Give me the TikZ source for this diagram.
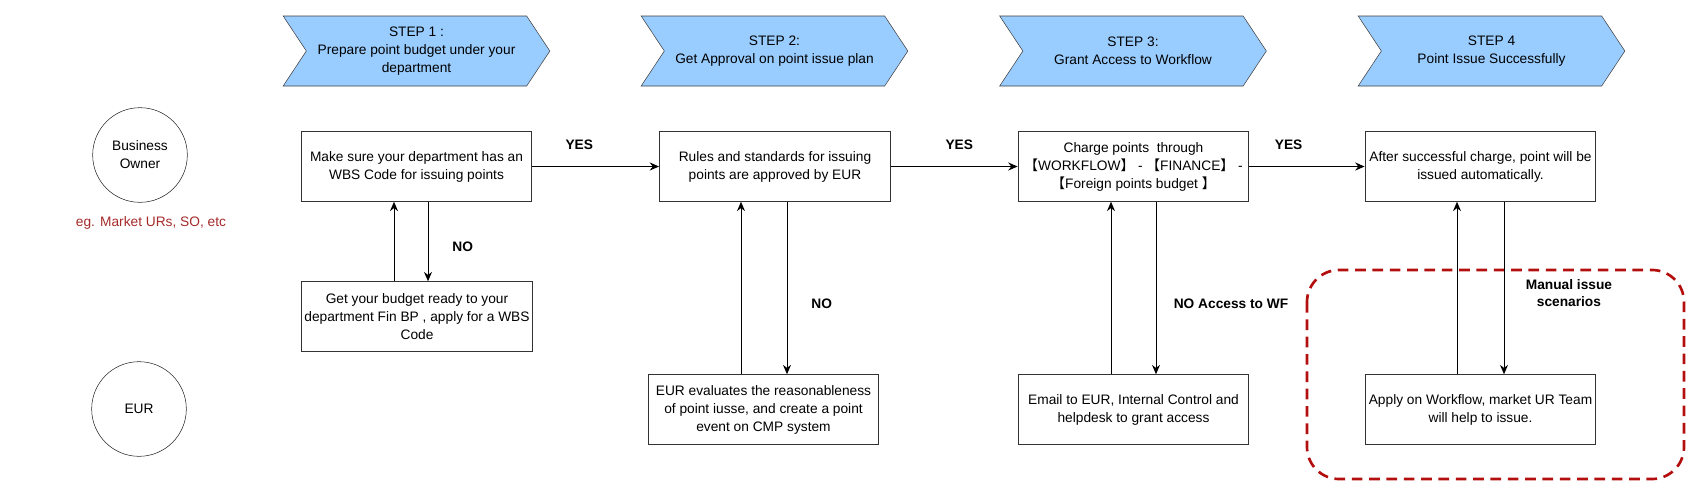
\documentclass[tikz,border=0pt]{standalone}
\usepackage{fontspec}
\setmainfont{Liberation Sans}
\newfontfamily\cjk{Noto Sans CJK SC}
\usetikzlibrary{positioning,arrows.meta,calc,shapes.symbols}
\definecolor{stepBlue}{HTML}{99CCFF}
\definecolor{noteRed}{HTML}{A52A2A}
\definecolor{zoneRed}{HTML}{B40F0F}
\newcommand{\opbr}{{\cjk 【}}
\newcommand{\clbr}{{\cjk 】}}

\begin{document}
\begin{tikzpicture}[
    x=0.75pt, y=-0.75pt,
    >=Stealth,
    txt/.style={font=\fontsize{10.3}{13.5}\selectfont, align=center},
    stepbox/.style={txt, shape=signal, signal from=west, signal to=east, signal pointer angle=113, draw=black!75, fill=stepBlue, minimum width=200pt, minimum height=52.5pt, inner sep=1pt},
    box/.style={txt, draw=black!80, line width=0.9pt, fill=white, minimum width=173pt, minimum height=52pt, inner sep=2pt},
    actor/.style={txt, circle, draw=black!85, minimum size=71pt},
    arr/.style={-{Stealth[length=7pt,width=6pt]}, line width=0.7pt},
    lbl/.style={font=\fontsize{10.3}{13}\selectfont\bfseries, align=center, inner sep=1pt},
    zone/.style={draw=zoneRed, line width=2pt, dash pattern=on 8pt off 5pt, rounded corners=24pt}
]
    \useasboundingbox (0,0) rectangle (1703,494);

    % Roles on the left
    \node[actor] (owner) at (140,155) {Business\\Owner};
    \node[txt, text=noteRed] (ownernote) at (151,223) {eg. Market URs, SO, etc};
    \node[actor] (eur) at (139,409) {EUR};

    % Step banners
    \node[stepbox] (st1) at (416.5,51) {STEP 1 :\\Prepare point budget under your\\department};
    \node[stepbox] (st2) at (774.5,51) {STEP 2:\\Get Approval on point issue plan};
    \node[stepbox] (st3) at (1133,51) {STEP 3:\\Grant Access to Workflow};
    \node[stepbox] (st4) at (1491.5,51) {STEP 4\\Point Issue Successfully};

    % Main row
    \node[box] (b1) at (416.5,166.5) {Make sure your department has an\\WBS Code for issuing points};
    \node[box] (b2) at (775,166.5) {Rules and standards for issuing\\points are approved by EUR};
    \node[box] (b3) at (1133.5,166.5) {Charge points~ through\\\opbr WORKFLOW\clbr{} - \opbr FINANCE\clbr{} -\\\opbr Foreign points budget \clbr};
    \node[box] (b4) at (1480.5,166.5) {After successful charge, point will be\\issued automatically.};

    % Fallback boxes
    \node[box] (b1b) at (417,316.5) {Get your budget ready to your\\department Fin BP , apply for a WBS\\Code};
    \node[box] (b2b) at (763.5,409.5) {EUR evaluates the reasonableness\\of point iusse, and create a point\\event on CMP system};
    \node[box] (b3b) at (1133.5,409.5) {Email to EUR, Internal Control and\\helpdesk to grant access};
    \node[box] (b4b) at (1480.5,409.5) {Apply on Workflow, market UR Team\\will help to issue.};

    % Manual issue area
    \draw[zone] (1307,270) rectangle (1684,479);

    % YES flow
    \draw[arr] (b1) -- node[lbl, pos=0.37, above=11pt] {YES} (b2);
    \draw[arr] (b2) -- node[lbl, pos=0.54, above=11pt] {YES} (b3);
    \draw[arr] (b3) -- node[lbl, pos=0.34, above=11pt] {YES} (b4);

    % NO loops
    \draw[arr] ($(b1.south)+(11.5,0)$) -- node[lbl, pos=0.57, right=17pt] {NO} ($(b1b.north)+(11,0)$);
    \draw[arr] ($(b1b.north)+(-23,0)$) -- ($(b1.south)+(-22.5,0)$);
    \draw[arr] ($(b2.south)+(12,0)$) -- node[lbl, pos=0.59, right=17pt] {NO} ($(b2b.north)+(23.5,0)$);
    \draw[arr] ($(b2b.north)+(-22.5,0)$) -- ($(b2.south)+(-34,0)$);
    \draw[arr] ($(b3.south)+(22.5,0)$) -- node[lbl, pos=0.59, right=12pt] {NO Access to WF} ($(b3b.north)+(22.5,0)$);
    \draw[arr] ($(b3b.north)+(-22.5,0)$) -- ($(b3.south)+(-22.5,0)$);
    \draw[arr] ($(b4.south)+(23.5,0)$) -- node[lbl, pos=0.53, right=15pt] {Manual issue\\scenarios} ($(b4b.north)+(23.5,0)$);
    \draw[arr] ($(b4b.north)+(-23.5,0)$) -- ($(b4.south)+(-23.5,0)$);
\end{tikzpicture}
\end{document}
